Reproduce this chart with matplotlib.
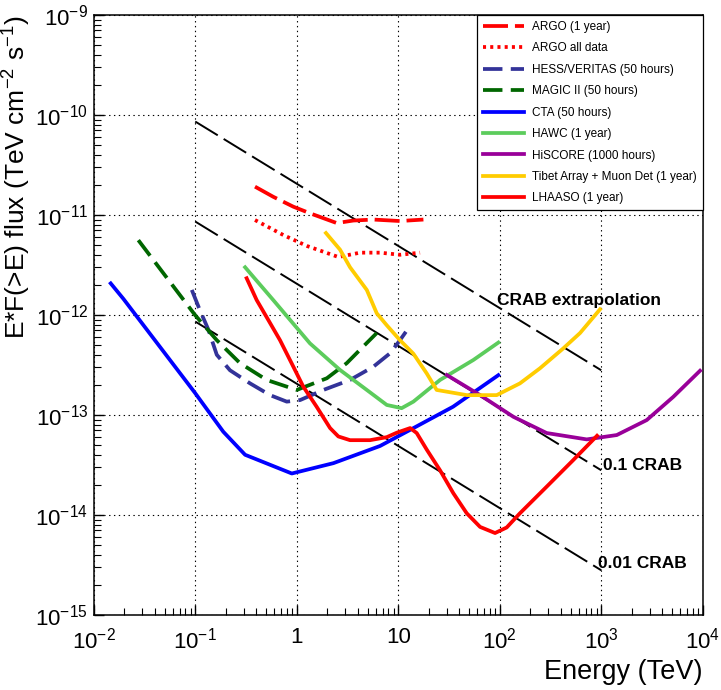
import matplotlib
matplotlib.use('Agg')
import matplotlib.pyplot as plt
from matplotlib.ticker import LogLocator, FixedLocator, FixedFormatter, NullFormatter

plt.rcParams['font.family'] = ['Liberation Sans', 'DejaVu Sans']
plt.rcParams['mathtext.fontset'] = 'custom'
plt.rcParams['mathtext.rm'] = 'Liberation Sans'
plt.rcParams['mathtext.it'] = 'Liberation Sans:italic'
plt.rcParams['mathtext.bf'] = 'Liberation Sans:bold'
plt.rcParams['lines.scale_dashes'] = False

# sensitivity curves, energy in TeV, E*F(>E) in TeV cm^-2 s^-1
argo_e = [0.388, 0.587, 0.926, 1.35, 2.48, 3.61, 5.69, 10.4, 17.7]
argo_f = [1.92e-11, 1.52e-11, 1.21e-11, 1.04e-11, 8.3e-12, 8.8e-12, 9.0e-12, 8.7e-12, 9.0e-12]

argo_all_e = [0.388, 0.738, 1.26, 2.57, 4.21, 6.62, 10.4, 16.4]
argo_all_f = [8.9e-12, 6.3e-12, 4.9e-12, 3.8e-12, 4.2e-12, 4.2e-12, 4.0e-12, 4.2e-12]

hess_e = [0.0925, 0.111, 0.135, 0.163, 0.22, 0.347, 0.546, 0.797, 1.08, 1.83, 3.35, 5.69, 8.3, 10.4, 13.1]
hess_f = [1.78e-12, 1.12e-12, 7.1e-13, 4.0e-13, 2.8e-13, 2.07e-13, 1.58e-13, 1.36e-13, 1.41e-13,
          1.78e-13, 2.24e-13, 3.04e-13, 4.14e-13, 5.6e-13, 7.8e-13]

magic_e = [0.0275, 0.0995, 0.163, 0.276, 0.506, 1.0, 1.98, 3.11, 4.21, 6.14]
magic_f = [5.6e-12, 1.0e-12, 5.6e-13, 3.3e-13, 2.24e-13, 1.78e-13, 2.33e-13, 3.3e-13, 4.5e-13, 6.6e-13]

cta_e = [0.0147, 0.0196, 0.0996, 0.189, 0.31, 0.894, 2.30, 6.62, 13.1, 34.7, 96.8]
cta_f = [2.07e-12, 1.45e-12, 1.66e-13, 6.8e-14, 4.0e-14, 2.6e-14, 3.3e-14, 4.9e-14, 7.1e-14, 1.21e-13, 2.5e-13]

hawc_e = [0.31, 0.587, 1.35, 2.67, 4.9, 7.71, 10.8, 14.1, 25.8, 55.0, 96.9]
hawc_f = [3.0e-12, 1.41e-12, 5.2e-13, 2.82e-13, 1.78e-13, 1.26e-13, 1.17e-13, 1.36e-13, 2.24e-13, 3.55e-13, 5.3e-13]

hiscore_e = [30.1, 64.0, 136, 290, 719, 1421, 2808, 5130, 9400]
hiscore_f = [2.51e-13, 1.58e-13, 9.6e-14, 6.6e-14, 5.7e-14, 6.3e-14, 8.9e-14, 1.52e-13, 2.77e-13]

tibet_e = [1.94, 2.67, 3.35, 4.9, 6.14, 7.7, 10.4, 14.1, 19.1, 23.9, 30.1, 47.3, 93.3, 158, 249, 424, 618, 973]
tibet_f = [6.6e-12, 4.5e-12, 3.0e-12, 1.78e-12, 1.04e-12, 7.9e-13, 5.6e-13, 4.1e-13, 2.6e-13, 1.78e-13,
           1.71e-13, 1.58e-13, 1.58e-13, 2.07e-13, 2.93e-13, 4.65e-13, 6.6e-13, 1.14e-12]

lhaaso_e = [0.321, 0.403, 0.525, 0.684, 0.926, 1.16, 1.57, 2.13, 2.57, 3.35, 5.27, 7.7, 9.67, 13.1, 15.2,
            19.1, 25.8, 34.9, 47.3, 64.0, 89.9, 117, 158, 290, 531, 909]
lhaaso_f = [2.33e-12, 1.41e-12, 8.9e-13, 5.6e-13, 3.04e-13, 1.92e-13, 1.21e-13, 7.4e-14, 6.1e-14, 5.6e-14,
            5.6e-14, 6.0e-14, 6.65e-14, 7.4e-14, 6.6e-14, 4.5e-14, 2.8e-14, 1.65e-14, 1.04e-14, 7.6e-15,
            6.6e-15, 7.5e-15, 1.04e-14, 1.92e-14, 3.55e-14, 6.2e-14]

# crab reference lines
crab_e = [0.1, 1000]
crab_f = [8.6e-11, 2.8e-13]
crab_scales = [1, 0.1, 0.01]

x_ticks = [1e-2, 1e-1, 1, 10, 1e2, 1e3, 1e4]
x_labels = ['$10^{-2}$', '$10^{-1}$', '1', '10', '$10^{2}$', '$10^{3}$', '$10^{4}$']
y_ticks = [1e-15, 1e-14, 1e-13, 1e-12, 1e-11, 1e-10, 1e-9]
y_labels = ['$10^{-15}$', '$10^{-14}$', '$10^{-13}$', '$10^{-12}$', '$10^{-11}$', '$10^{-10}$', '$10^{-9}$']

fig = plt.figure(figsize=(7.21, 6.9), dpi=100)
ax = fig.add_axes([0.13, 0.1087, 0.8447, 0.8696])
ax.set_xscale('log')
ax.set_yscale('log')
ax.set_xlim(1e-2, 1e4)
ax.set_ylim(1e-15, 1e-9)

for s in crab_scales:
    ax.plot(crab_e, [f * s for f in crab_f], color='black', lw=1.4, dashes=(19, 5), zorder=2)

lw = 2.7
ax.plot(argo_e, argo_f, color='#ff0000', lw=lw, dashes=(18, 5), label='ARGO (1 year)', zorder=3)
ax.plot(argo_all_e, argo_all_f, color='#ff0000', lw=lw, dashes=(2.2, 3), label='ARGO all data', zorder=3)
ax.plot(hess_e, hess_f, color='#333399', lw=lw, dashes=(14, 6), label='HESS/VERITAS (50 hours)', zorder=3)
ax.plot(magic_e, magic_f, color='#006600', lw=lw, dashes=(14, 6), label='MAGIC II (50 hours)', zorder=3)
ax.plot(cta_e, cta_f, color='#0000ff', lw=lw, label='CTA (50 hours)', zorder=3)
ax.plot(hawc_e, hawc_f, color='#5ccc5c', lw=lw, label='HAWC (1 year)', zorder=3)
ax.plot(hiscore_e, hiscore_f, color='#990099', lw=lw, label='HiSCORE (1000 hours)', zorder=3)
ax.plot(tibet_e, tibet_f, color='#ffcc00', lw=lw, label='Tibet Array + Muon Det (1 year)', zorder=3)
ax.plot(lhaaso_e, lhaaso_f, color='#ff0000', lw=lw, label='LHAASO (1 year)', zorder=3)

ax.text(94, 1.41e-12, 'CRAB extrapolation', fontsize=12.5, fontweight='bold', va='center', ha='left')
ax.text(1042, 3.16e-14, '0.1 CRAB', fontsize=12.5, fontweight='bold', va='center', ha='left')
ax.text(929, 3.3e-15, '0.01 CRAB', fontsize=12.5, fontweight='bold', va='center', ha='left')

# axes, ticks, grid in ROOT style
ax.xaxis.set_major_locator(FixedLocator(x_ticks))
ax.xaxis.set_major_formatter(FixedFormatter(x_labels))
ax.yaxis.set_major_locator(FixedLocator(y_ticks))
ax.yaxis.set_major_formatter(FixedFormatter(y_labels))
ax.xaxis.set_minor_locator(LogLocator(base=10, subs=range(2, 10), numticks=20))
ax.yaxis.set_minor_locator(LogLocator(base=10, subs=range(2, 10), numticks=20))
ax.xaxis.set_minor_formatter(NullFormatter())
ax.yaxis.set_minor_formatter(NullFormatter())
ax.tick_params(which='both', direction='in', top=False, right=False, labelsize=16)
ax.tick_params(which='major', length=7.5, width=1.0)
ax.tick_params(which='minor', length=5, width=0.8)
ax.tick_params(axis='x', which='major', pad=9)
ax.tick_params(axis='y', which='major', pad=4)
for sp in ax.spines.values():
    sp.set_linewidth(1.1)
ax.grid(True, which='major', color='black', lw=0.8, linestyle=(0, (1, 2.5)))
ax.set_axisbelow(True)

ax.set_xlabel('Energy (TeV)', fontsize=19.5, loc='right', labelpad=4)
ax.set_ylabel('E*F(>E) flux (TeV cm$^{-2}$ s$^{-1}$)', fontsize=19, loc='top', labelpad=2)

leg = ax.legend(loc='upper right', bbox_to_anchor=(1.0, 1.0), borderaxespad=0.0, fontsize=8.5,
                handlelength=3.5, handletextpad=0.7, labelspacing=0.8, borderpad=0.5,
                fancybox=False, framealpha=1, edgecolor='black')
leg.get_frame().set_linewidth(0.9)

plt.savefig('out.png', dpi=100)
